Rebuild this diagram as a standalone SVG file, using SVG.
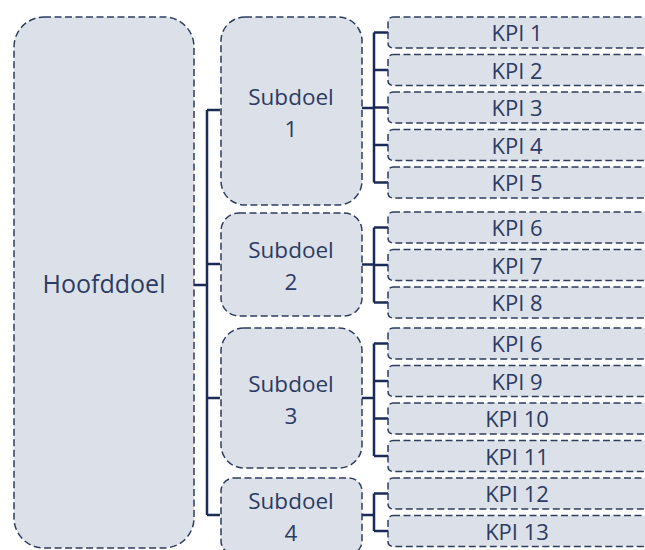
<svg xmlns="http://www.w3.org/2000/svg" width="645" height="550" viewBox="0 0 645 550">
<style>
.box{fill:#dce1e9;stroke:#2e3c5e;stroke-width:1.5;stroke-dasharray:7 3.5}
.t{font-family:"Open Sans","Liberation Sans",sans-serif;fill:#2c3b63;text-anchor:middle}
.kt{font-size:22px}
.st{font-size:22.5px}
.ht{font-size:25px}
.c{fill:none;stroke:#1b2a57;stroke-width:2.5}
</style>
<rect width="645" height="550" fill="#ffffff"/>
<g id="connectors">
<path class="c" d="M194 285H207M207 110V515M207 110H220M207 264H220M207 398H220M207 515H220"/>
<path class="c" d="M362 108H374M374 32.5V182.5M374 32.5H388M374 70H388M374 107.5H388M374 145H388M374 182.5H388"/>
<path class="c" d="M362 264.5H374M374 227.5V302.5M374 227.5H388M374 265H388M374 302.5H388"/>
<path class="c" d="M362 398H374M374 343.5V456M374 343.5H388M374 381H388M374 418.5H388M374 456H388"/>
<path class="c" d="M362 515H374M374 493.5V531M374 493.5H388M374 531H388"/>
</g>
<g id="hoofddoel"><rect class="box" x="14" y="17" width="180" height="531" rx="30"/><text class="t ht" x="104" y="293">Hoofddoel</text></g>
<g id="subdoel1"><rect class="box" x="221" y="17" width="141" height="188" rx="24"/><text class="t st" x="291" y="105">Subdoel</text><text class="t st" x="291" y="137">1</text></g>
<g id="subdoel2"><rect class="box" x="221" y="213" width="141" height="103" rx="18"/><text class="t st" x="291" y="258">Subdoel</text><text class="t st" x="291" y="290">2</text></g>
<g id="subdoel3"><rect class="box" x="221" y="328" width="141" height="140" rx="23"/><text class="t st" x="291" y="392">Subdoel</text><text class="t st" x="291" y="424">3</text></g>
<g id="subdoel4"><rect class="box" x="221" y="478" width="141" height="76" rx="13"/><text class="t st" x="291" y="509">Subdoel</text><text class="t st" x="291" y="541">4</text></g>
<g id="kpi1"><rect class="box" x="388" y="17" width="280" height="31" rx="5"/><text class="t kt" x="517" y="41">KPI 1</text></g>
<g id="kpi2"><rect class="box" x="388" y="54.5" width="280" height="31" rx="5"/><text class="t kt" x="517" y="78.5">KPI 2</text></g>
<g id="kpi3"><rect class="box" x="388" y="92" width="280" height="31" rx="5"/><text class="t kt" x="517" y="116">KPI 3</text></g>
<g id="kpi4"><rect class="box" x="388" y="129.5" width="280" height="31" rx="5"/><text class="t kt" x="517" y="153.5">KPI 4</text></g>
<g id="kpi5"><rect class="box" x="388" y="167" width="280" height="31" rx="5"/><text class="t kt" x="517" y="191">KPI 5</text></g>
<g id="kpi6a"><rect class="box" x="388" y="212" width="280" height="31" rx="5"/><text class="t kt" x="517" y="236">KPI 6</text></g>
<g id="kpi7"><rect class="box" x="388" y="249.5" width="280" height="31" rx="5"/><text class="t kt" x="517" y="273.5">KPI 7</text></g>
<g id="kpi8"><rect class="box" x="388" y="287" width="280" height="31" rx="5"/><text class="t kt" x="517" y="311">KPI 8</text></g>
<g id="kpi6b"><rect class="box" x="388" y="328" width="280" height="31" rx="5"/><text class="t kt" x="517" y="352">KPI 6</text></g>
<g id="kpi9"><rect class="box" x="388" y="365.5" width="280" height="31" rx="5"/><text class="t kt" x="517" y="389.5">KPI 9</text></g>
<g id="kpi10"><rect class="box" x="388" y="403" width="280" height="31" rx="5"/><text class="t kt" x="517" y="427">KPI 10</text></g>
<g id="kpi11"><rect class="box" x="388" y="440.5" width="280" height="31" rx="5"/><text class="t kt" x="517" y="464.5">KPI 11</text></g>
<g id="kpi12"><rect class="box" x="388" y="478" width="280" height="31" rx="5"/><text class="t kt" x="517" y="502">KPI 12</text></g>
<g id="kpi13"><rect class="box" x="388" y="515.5" width="280" height="31" rx="5"/><text class="t kt" x="517" y="539.5">KPI 13</text></g>
</svg>
